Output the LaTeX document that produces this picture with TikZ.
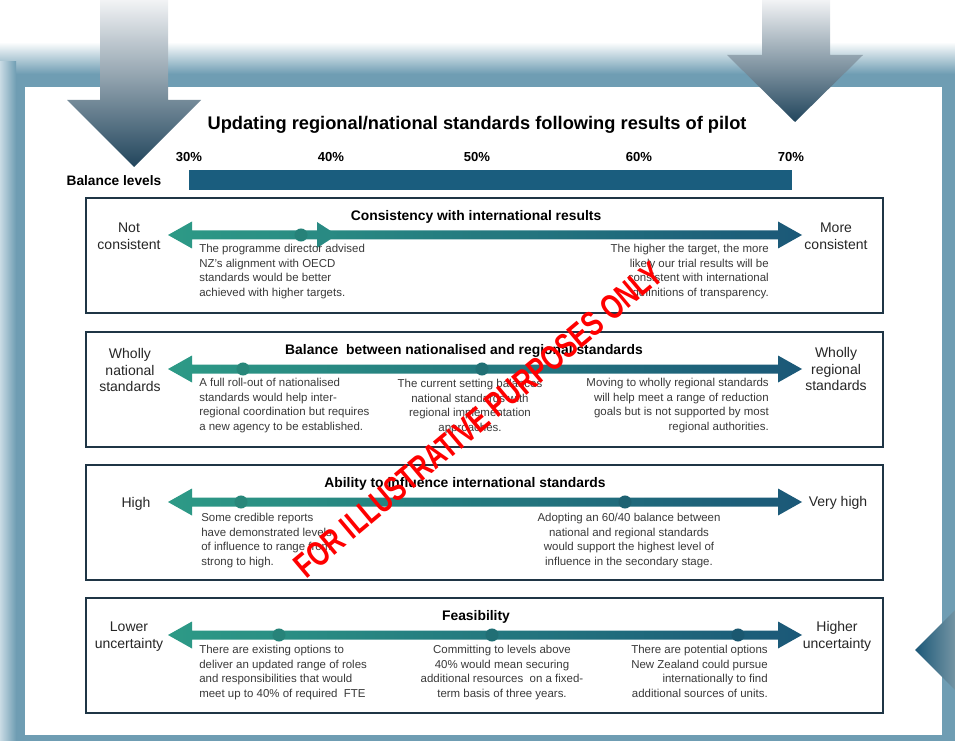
\documentclass[tikz,border=0pt]{standalone}
\usepackage{graphicx}
\usepackage{fontspec}
\setmainfont{Liberation Sans}
\usetikzlibrary{positioning}

\definecolor{frameblue}{HTML}{6F9DB3}
\definecolor{framelight}{HTML}{C9DBE4}
\definecolor{arrowlight}{HTML}{F2F3F5}
\definecolor{arrowmid}{HTML}{B2B6BC}
\definecolor{arrowdark}{HTML}{21455C}
\definecolor{barblue}{HTML}{1A5D7E}
\definecolor{scaleteal}{HTML}{2D9A86}
\definecolor{scaleblue}{HTML}{1B5878}
\definecolor{boxline}{HTML}{1F3545}
\definecolor{notegray}{HTML}{3A3A3A}
\definecolor{stampred}{HTML}{FF0000}

\begin{document}
\begin{tikzpicture}[x=0.75pt,y=-0.75pt,
    bigarrow/.style={top color=arrowlight,middle color=arrowmid,bottom color=arrowdark},
    panel/.style={draw=boxline,line width=1.1pt,fill=white},
    scalearrow/.style={left color=scaleteal,right color=scaleblue},
    heading/.style={font=\bfseries\fontsize{10.4}{12}\selectfont},
    tick/.style={font=\bfseries\fontsize{9.8}{11}\selectfont},
    endlabel/.style={align=center,inner sep=0pt,text=black!85,font=\fontsize{10.5}{12.7}\selectfont},
    note/.style={inner sep=0pt,text=notegray,font=\fontsize{8.6}{11}\selectfont},
    stamp/.style={text=stampred,font=\bfseries\fontsize{26}{28}\selectfont,rotate=40}
    ]
    \useasboundingbox (0,0) rectangle (955,741);

    % blue frame with soft top and left edges
    \fill[frameblue] (0,58) rectangle (955,741);
    \shade[top color=white,bottom color=frameblue] (0,42) rectangle (955,74);
    \shade[left color=framelight,right color=frameblue] (0,62) rectangle (16,741);
    \fill[white] (25,87) rectangle (942,735);

    % big grey arrows
    \shade[bigarrow] (100,0) -- (168,0) -- (168,100) -- (201,100) -- (134,167)
        -- (67,100) -- (100,100) -- cycle;
    \shade[bigarrow] (762,0) -- (830,0) -- (830,55) -- (863,55) -- (795,122)
        -- (727,55) -- (762,55) -- cycle;
    \shade[left color=scaleblue,right color=frameblue!70!gray] (915,650) -- (955,610)
        -- (955,690) -- cycle;

    \node[font=\bfseries\fontsize{13.7}{15}\selectfont] (title) at (477,125)
        {Updating regional/national standards following results of pilot};
    \foreach \x/\v in {189/30,331/40,477/50,639/60,791/70}
        \node[tick] (tick\v) at (\x,157) {\v\%};
    \node[font=\bfseries\fontsize{10.3}{12}\selectfont,anchor=east] (balance) at (166,181)
        {Balance levels};
    \fill[barblue] (189,170) rectangle (792,190);

    % panels: top edge/name/heading/heading x
    \foreach \t/\n/\txt/\hx in {
        198/cons/{Consistency with international results}/476,
        332/bal/{Balance \ between nationalised and regional standards}/464,
        465/infl/{Ability to influence international standards}/465,
        598/feas/{Feasibility}/476}{
        \draw[panel] (86,\t) rectangle (883,\t+115);
        \node[heading] (\n-head) at (\hx,\t+19) {\txt};
        \shade[scalearrow] (168,\t+37) -- (192,\t+23.5) -- (192,\t+32.5) -- (778,\t+32.5)
            -- (778,\t+23.5) -- (802,\t+37) -- (778,\t+50.5) -- (778,\t+41.5)
            -- (192,\t+41.5) -- (192,\t+50.5) -- cycle;
    }

    % points along the scales
    \foreach \x/\y in {301/235,243/369,482/369,241/502,625/502,279/635,492/635,738/635}{
        \pgfmathtruncatemacro\p{(\x-168)/6.34}
        \fill[scaleblue!\p!scaleteal!92!black] (\x,\y) circle[radius=4.9pt];
    }
    \fill[scaleblue!24!scaleteal] (317,222) -- (337,235) -- (317,248) -- cycle;

    % end labels
    \node[endlabel] (cons-l) at (129,236) {Not\\consistent};
    \node[endlabel] (cons-r) at (836,236) {More\\consistent};
    \node[endlabel] (bal-l) at (130,370) {Wholly\\national\\standards};
    \node[endlabel] (bal-r) at (836,369) {Wholly\\regional\\standards};
    \node[endlabel] (infl-l) at (136,504) {High};
    \node[endlabel] (infl-r) at (838,503) {Very high};
    \node[endlabel] (feas-l) at (129,637) {Lower\\uncertainty};
    \node[endlabel] (feas-r) at (837,636) {Higher\\uncertainty};

    % notes under the scales
    \node[note,align=left,anchor=north west] (cons-n1) at (199,244)
        {The programme director advised\\NZ's alignment with OECD\\standards would be better\\achieved with higher targets.};
    \node[note,align=right,anchor=north east] (cons-n2) at (769,244)
        {The higher the target, the more\\likely our trial results will be\\consistent with international\\definitions of transparency.};
    \node[note,align=left,anchor=north west] (bal-n1) at (199,378)
        {A full roll-out of nationalised\\standards would help inter-\\regional coordination but requires\\a new agency to be established.};
    \node[note,align=center,anchor=north] (bal-n2) at (470,379)
        {The current setting balances\\national standards with\\regional implementation\\approaches.};
    \node[note,align=right,anchor=north east] (bal-n3) at (769,378)
        {Moving to wholly regional standards\\will help meet a range of reduction\\goals but is not supported by most\\regional authorities.};
    \node[note,align=left,anchor=north west] (infl-n1) at (201,513)
        {Some credible reports\\have demonstrated levels\\of influence to range from\\strong to high.};
    \node[note,align=center,anchor=north] (infl-n2) at (629,513)
        {Adopting an 60/40 balance between\\national and regional standards\\would support the highest level of\\influence in the secondary stage.};
    \node[note,align=left,anchor=north west] (feas-n1) at (199,645)
        {There are existing options to\\deliver an updated range of roles\\and responsibilities that would\\meet up to 40\% of required \ FTE};
    \node[note,align=center,anchor=north] (feas-n2) at (502,645)
        {Committing to levels above\\40\% would mean securing\\additional resources \ on a fixed-\\term basis of three years.};
    \node[note,align=right,anchor=north east] (feas-n3) at (768,645)
        {There are potential options\\New Zealand could pursue\\internationally to find\\additional sources of units.};

    \node[stamp] (stamp) at (478,420) {\scalebox{0.74}[1]{FOR ILLUSTRATIVE PURPOSES ONLY}};
\end{tikzpicture}
\end{document}
